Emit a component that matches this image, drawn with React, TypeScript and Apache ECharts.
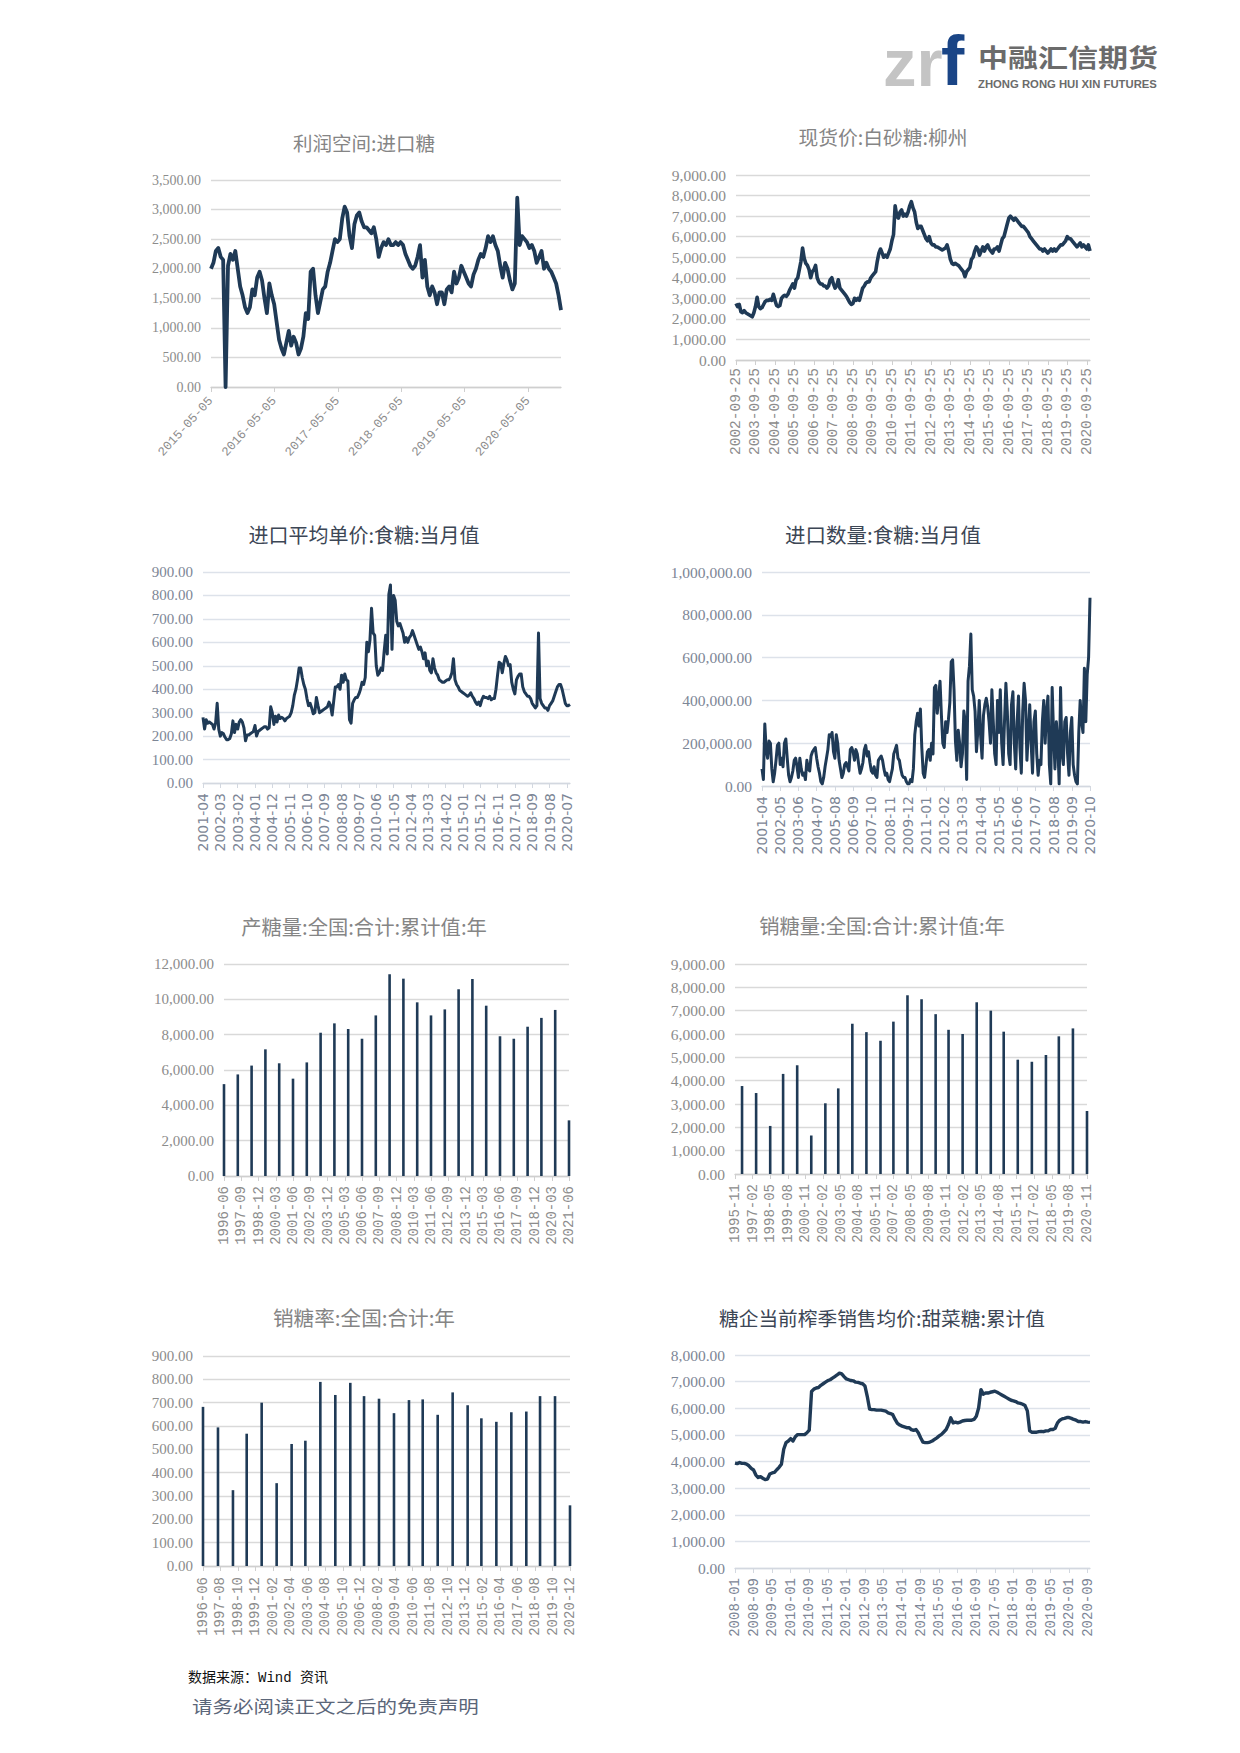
import React, { useEffect, useRef } from "react";
import * as echarts from "echarts";

// ---------- Chart 1: 利润空间:进口糖 (biweekly from 2015-05-05) ----------
const profitStart = "2015-05-05";
const profitStepDays = 14;
const profitValues = [
  2000, 2100, 2300, 2350, 2200, 2150, 0, 2050, 2250, 2150,
  2300, 2000, 1700, 1550, 1350, 1250, 1350, 1650, 1550, 1850,
  1950, 1800, 1500, 1250, 1750, 1550, 1400, 1100, 800, 650,
  550, 750, 950, 700, 850, 750, 550, 650, 850, 1250,
  1150, 1950, 2000, 1550, 1250, 1450, 1650, 1700, 1950, 2100,
  2300, 2500, 2450, 2500, 2850, 3050, 2950, 2550, 2350, 2750,
  2900, 2950, 2800, 2700, 2700, 2650, 2600, 2700, 2500, 2200,
  2350, 2450, 2400, 2500, 2400, 2400, 2450, 2400, 2450, 2400,
  2250, 2150, 2050, 2000, 2050, 2200, 2400, 1850, 2150, 1700,
  1550, 1700, 1600, 1400, 1600, 1600, 1400, 1650, 1700, 1600,
  1950, 1750, 1850, 2050, 1950, 1850, 1750, 1700, 1900, 2000,
  2150, 2250, 2200, 2350, 2550, 2450, 2550, 2400, 2300, 2050,
  1850, 2100, 2000, 1800, 1650, 1750, 3200, 2400, 2550, 2500,
  2450, 2350, 2400, 2300, 2100, 2200, 2300, 2000, 2100, 2000,
  1950, 1850, 1750, 1550, 1300,
];
const profitTickDates = ["2015-05-05", "2016-05-05", "2017-05-05", "2018-05-05", "2019-05-05", "2020-05-05"];

// ---------- Chart 2: 现货价:白砂糖:柳州 (monthly from 2002-09) ----------
const spotStart = "2002-09";
const spotDay = "25";
const spotValues = [
  2750, 2600, 2700, 2350,
  2300, 2400, 2300, 2250, 2200, 2150, 2100, 2300, 2600, 3050, 2600, 2500,
  2550, 2700, 2850, 2900, 2900, 2950, 2900, 3200, 2900, 2650, 2600, 2650,
  3000, 3100, 3150, 3100, 3200, 3400, 3550, 3700, 3500, 3900, 4000, 4400,
  4800, 5450, 4950, 4700, 4600, 4400, 4000, 4300, 4400, 4600, 4000, 3800,
  3700, 3700, 3600, 3600, 3500, 3600, 3900, 4000, 3700, 3500, 3600, 3900,
  3500, 3400, 3300, 3200, 3100, 2950, 2800, 2700, 2750, 3000, 2900, 3000,
  2900, 3200, 3500, 3600, 3750, 3800, 3800, 4000, 4100, 4200, 4300, 4800,
  5200, 5400, 5200, 5000, 5100, 5000, 5200, 5400, 5800, 6100, 7500, 7000,
  6900, 7200, 7300, 7000, 7100, 7000, 7200, 7500, 7700, 7400, 7200, 6700,
  6400, 6500, 6500, 6300, 6100, 5900, 5800, 6000, 5700, 5600, 5600, 5500,
  5500, 5450, 5400, 5350, 5400, 5450, 5600, 5300, 4900, 4700, 4650, 4700,
  4650, 4600, 4500, 4400, 4300, 4050, 4300, 4400, 4500, 4900, 5000, 5300,
  5500, 5400, 5100, 5300, 5500, 5300, 5500, 5600, 5400, 5300, 5200, 5400,
  5400, 5500, 5300, 5600, 5900, 6000, 6300, 6600, 6900, 7000, 6900, 6800,
  6900, 6800, 6700, 6600, 6500, 6500, 6400, 6300, 6200, 6000, 5900, 5800,
  5700, 5600, 5500, 5400, 5400, 5300, 5400, 5300, 5200, 5300, 5400, 5300,
  5400, 5300, 5400, 5500, 5600, 5600, 5700, 5800, 6000, 5900, 5900, 5800,
  5700, 5600, 5500, 5600, 5700, 5500, 5600, 5500, 5400, 5600, 5300,
];

// ---------- Chart 3: 进口平均单价:食糖:当月值 (monthly from 2001-04) ----------
const importPriceStart = "2001-04";
const importPriceValues = [
  280, 230, 270, 255, 260, 255, 250, 230, 255, 340,
  230, 200, 215, 210, 195, 185, 185, 190, 210, 265,
  215, 250, 230, 260, 270, 260, 235, 180, 205, 205,
  210, 215, 220, 245, 200, 220, 225, 230, 235, 240,
  240, 230, 235, 325, 300, 250, 285, 260, 290, 275,
  280, 275, 265, 275, 280, 285, 300, 330, 375, 400,
  440, 490, 490, 450, 420, 400, 360, 330, 340, 320,
  295, 300, 365, 330, 300, 305, 310, 315, 320, 325,
  345, 330, 290, 350, 410, 410, 420, 400, 460, 430,
  465, 440, 435, 270, 255, 340, 355, 365, 365, 380,
  400, 430, 420, 450, 600, 560, 610, 745, 640, 630,
  500, 460, 470, 490, 480, 560, 630, 550, 805, 845,
  570, 800, 780, 690, 670, 680, 660, 640, 600, 620,
  600, 620, 630, 650, 630, 610, 590, 570, 580, 560,
  530, 555, 500, 520, 480, 470, 530, 490, 470, 460,
  440, 435, 430, 430, 435, 440, 440, 450, 470, 530,
  440, 420, 410, 395, 390, 385, 380, 375, 370, 375,
  385, 370, 360, 345, 335, 345, 330, 355, 370, 365,
  365, 360, 370, 355, 360, 360, 400, 460, 515, 510,
  470, 510, 540, 525, 500, 505, 430, 400, 380, 440,
  455, 465, 465, 410, 390, 380, 370, 370, 360, 340,
  330, 320, 330, 640, 360, 340, 330, 320, 320, 310,
  330, 340, 350, 370, 390, 410, 420, 420, 400, 370,
  340, 330, 330, 335,
];

// ---------- Chart 4: 进口数量:食糖:当月值 (monthly from 2001-04) ----------
const importQtyStart = "2001-04";
const importQtyValues = [
  80000, 30000, 290000, 170000, 130000, 210000, 200000, 80000, 20000, 60000,
  120000, 190000, 200000, 100000, 130000, 90000, 200000, 220000, 130000, 50000,
  20000, 40000, 70000, 120000, 130000, 90000, 40000, 130000, 80000, 50000,
  60000, 30000, 120000, 80000, 70000, 140000, 160000, 170000, 180000, 130000,
  90000, 60000, 20000, 10000, 40000, 90000, 130000, 170000, 240000, 230000,
  250000, 160000, 130000, 240000, 200000, 120000, 80000, 40000, 60000, 100000,
  110000, 90000, 70000, 170000, 180000, 160000, 120000, 170000, 150000, 100000,
  60000, 80000, 110000, 170000, 190000, 140000, 160000, 110000, 70000, 60000,
  90000, 50000, 40000, 120000, 130000, 140000, 120000, 80000, 50000, 60000,
  30000, 20000, 50000, 80000, 150000, 170000, 190000, 130000, 120000, 80000,
  50000, 40000, 40000, 20000, 10000, 10000, 30000, 20000, 80000, 240000,
  300000, 340000, 280000, 360000, 180000, 60000, 40000, 100000, 160000, 170000,
  120000, 200000, 150000, 460000, 470000, 340000, 410000, 490000, 330000, 200000,
  180000, 300000, 250000, 310000, 390000, 580000, 590000, 450000, 210000, 120000,
  260000, 200000, 90000, 150000, 350000, 300000, 30000, 490000, 560000, 710000,
  450000, 420000, 350000, 160000, 260000, 400000, 230000, 130000, 330000, 380000,
  410000, 370000, 300000, 200000, 450000, 300000, 150000, 100000, 400000, 250000,
  450000, 200000, 100000, 300000, 480000, 350000, 150000, 100000, 380000, 440000,
  200000, 80000, 300000, 420000, 180000, 60000, 350000, 480000, 400000, 120000,
  250000, 380000, 200000, 60000, 300000, 350000, 150000, 50000, 120000, 100000,
  300000, 400000, 200000, 350000, 420000, 100000, 10000, 460000, 250000, 80000,
  300000, 200000, 10000, 460000, 150000, 100000, 300000, 320000, 150000, 50000,
  250000, 320000, 100000, 50000, 20000, 10000, 250000, 400000, 300000, 250000,
  550000, 300000, 520000, 600000, 880000,
];

// ---------- Chart 5: 产糖量:全国:合计:累计值:年 ----------
const outputAxisStart = "1996-06";
const outputAxisEnd = "2021-06";
const outputDates = [
  "1996-06", "1997-06", "1998-06", "1999-06", "2000-06", "2001-06", "2002-06", "2003-06", "2004-06",
  "2005-06", "2006-06", "2007-06", "2008-06", "2009-06", "2010-06", "2011-06", "2012-06", "2013-06",
  "2014-06", "2015-06", "2016-06", "2017-06", "2018-06", "2019-06", "2020-06", "2021-06",
];
const outputValues = [
  5200, 5750, 6250, 7170, 6380, 5510, 6430, 8110, 8640, 8320, 7770, 9090, 11420,
  11170, 9830, 9090, 9430, 10570, 11150, 9640, 7910, 7770, 8450, 8950, 9400, 3150,
];

// ---------- Chart 6: 销糖量:全国:合计:累计值:年 ----------
const salesAxisStart = "1995-11";
const salesAxisEnd = "2020-11";
const salesDates = [
  "1996-05", "1997-05", "1998-05", "1999-04", "2000-04", "2001-04", "2002-04", "2003-03", "2004-03",
  "2005-03", "2006-03", "2007-02", "2008-02", "2009-02", "2010-02", "2011-01", "2012-01", "2013-01",
  "2014-01", "2014-12", "2015-12", "2016-12", "2017-12", "2018-11", "2019-11", "2020-11",
];
const salesValues = [
  3770, 3470, 2060, 4290, 4660, 1650, 3030, 3670, 6440, 6080, 5710, 6530, 7660,
  7490, 6850, 6180, 6000, 7360, 7000, 6100, 4900, 4810, 5100, 5900, 6240, 2700,
];

// ---------- Chart 7: 销糖率:全国:合计:年 ----------
const rateAxisStart = "1996-06";
const rateAxisEnd = "2020-12";
const rateDates = [
  "1996-06", "1997-06", "1998-06", "1999-05", "2000-05", "2001-05", "2002-05", "2003-04", "2004-04",
  "2005-04", "2006-04", "2007-03", "2008-03", "2009-03", "2010-03", "2011-02", "2012-02", "2013-02",
  "2014-02", "2015-01", "2016-01", "2017-01", "2018-01", "2018-12", "2019-12", "2020-12",
];
const rateValues = [
  682, 594, 325, 567, 700, 355, 523, 537, 789, 733, 785, 728, 717,
  655, 711, 714, 648, 744, 689, 633, 618, 659, 662, 728, 728, 260,
];

// ---------- Chart 8: 糖企当前榨季销售均价:甜菜糖:累计值 (monthly from 2008-01) ----------
const beetStart = "2008-01";
const beetValues = [
  3940, 3920, 3960, 3930, 3930, 3900, 3840, 3740, 3680, 3490,
  3400, 3430, 3370, 3320, 3340, 3530, 3570, 3590, 3690, 3780,
  3900, 4460, 4710, 4770, 4860, 4770, 4930, 5010, 5010, 5010,
  5010, 5080, 5180, 6630, 6720, 6760, 6780, 6860, 6920, 6980,
  7040, 7070, 7130, 7190, 7250, 7320, 7290, 7190, 7100, 7070,
  7040, 7030, 6980, 6970, 6940, 6920, 6840, 6450, 5970, 5950,
  5950, 5930, 5930, 5930, 5910, 5890, 5830, 5800, 5760, 5580,
  5430, 5370, 5330, 5300, 5270, 5270, 5200, 5170, 5200, 5080,
  4890, 4730, 4710, 4710, 4730, 4770, 4830, 4890, 4960, 5020,
  5110, 5200, 5390, 5640, 5450, 5480, 5450, 5480, 5520, 5540,
  5550, 5550, 5550, 5580, 5700, 6010, 6700, 6530, 6570, 6570,
  6600, 6620, 6640, 6600, 6550, 6500, 6450, 6400, 6350, 6300,
  6280, 6250, 6200, 6180, 6150, 6100, 5900, 5150, 5100, 5100,
  5100, 5120, 5130, 5120, 5150, 5150, 5200, 5200, 5250, 5450,
  5550, 5600, 5620, 5650, 5650, 5620, 5580, 5550, 5500, 5500,
  5480, 5500, 5480, 5470,
];

// ---------- helpers ----------
const LINE = "#1f3a56";
const GRAY_LABEL = "#8c8c8c";
const BLUE_LABEL = "#7d8696";
const GRID_GRAY = "#d9d9d9";
const GRID_BLUE = "#dde2ea";

function pad2(n: number) {
  return String(n).padStart(2, "0");
}
function monthSeq(start: string, n: number): string[] {
  let [y, m] = start.split("-").map(Number);
  const out: string[] = [];
  for (let i = 0; i < n; i++) {
    out.push(`${y}-${pad2(m)}`);
    m++;
    if (m > 12) {
      m = 1;
      y++;
    }
  }
  return out;
}
function monthRange(start: string, end: string): string[] {
  const [sy, sm] = start.split("-").map(Number);
  const [ey, em] = end.split("-").map(Number);
  return monthSeq(start, (ey - sy) * 12 + (em - sm) + 1);
}
function ts(d: string) {
  const [y, m, day] = d.split("-").map(Number);
  return Date.UTC(y, m - 1, day);
}
function isoDate(v: number) {
  return new Date(v).toISOString().slice(0, 10);
}
function fmtNum(v: number) {
  const s = Math.abs(v).toFixed(2);
  const [i, d] = s.split(".");
  return i.replace(/\B(?=(\d{3})+(?!\d))/g, ",") + "." + d;
}
function barData(cats: string[], dates: string[], values: number[]) {
  return cats.map((c) => {
    const k = dates.indexOf(c);
    return k >= 0 ? values[k] : null;
  });
}

function yAxisCfg(gridIndex: number, max: number, interval: number, fontSize: number, blue: boolean) {
  return {
    type: "value",
    gridIndex,
    min: 0,
    max,
    interval,
    axisLine: { show: false },
    axisTick: { show: false },
    axisLabel: {
      formatter: fmtNum,
      color: blue ? BLUE_LABEL : GRAY_LABEL,
      fontFamily: "Liberation Serif",
      fontSize,
      margin: 10,
    },
    splitLine: { lineStyle: { color: blue ? GRID_BLUE : GRID_GRAY, width: 1.3 } },
  };
}

function xCatCfg(
  gridIndex: number,
  data: string[],
  interval: number,
  fontFamily: string,
  fontSize: number,
  blue: boolean,
  margin: number
) {
  return {
    type: "category",
    gridIndex,
    data,
    boundaryGap: false,
    axisLine: { lineStyle: { color: blue ? "#d3d8e0" : "#cfcfcf", width: 1.3 } },
    axisTick: { show: true, interval, length: 5, lineStyle: { color: blue ? "#d3d8e0" : "#cfcfcf" } },
    axisLabel: {
      interval,
      rotate: 90,
      fontFamily,
      fontSize,
      color: blue ? BLUE_LABEL : GRAY_LABEL,
      margin,
    },
    splitLine: { show: false },
  };
}

function lineSeries(xi: number, data: any[], width: number) {
  return {
    type: "line",
    xAxisIndex: xi,
    yAxisIndex: xi,
    data,
    showSymbol: false,
    symbol: "none",
    silent: true,
    lineStyle: { color: LINE, width, join: "round" },
    emphasis: { disabled: true },
  };
}
function barSeries(xi: number, data: any[]) {
  return {
    type: "bar",
    xAxisIndex: xi,
    yAxisIndex: xi,
    data,
    barWidth: 2.6,
    clip: false,
    silent: true,
    itemStyle: { color: LINE },
    emphasis: { disabled: true },
  };
}

function titleText(text: string, x: number, y: number, size: number, dark: boolean) {
  return {
    type: "text",
    x,
    y,
    silent: true,
    style: {
      text,
      fontFamily: "Noto Sans CJK SC",
      fontSize: size,
      fill: dark ? "#3c4655" : "#858585",
      align: "center",
      verticalAlign: "middle",
    },
  };
}

function buildOption() {
  // chart 1
  const p0 = ts(profitStart);
  const profitData = profitValues.map((v, i) => [p0 + i * profitStepDays * 86400000, v]);
  const profitTicks = profitTickDates.map(ts);
  // chart 2
  const spotCats = monthSeq(spotStart, spotValues.length).map((s) => `${s}-${spotDay}`);
  // chart 3/4/8
  const ipCats = monthSeq(importPriceStart, importPriceValues.length);
  const iqCats = monthSeq(importQtyStart, importQtyValues.length);
  const beetCats = monthSeq(beetStart, beetValues.length);
  // bars
  const outCats = monthRange(outputAxisStart, outputAxisEnd);
  const salesCats = monthRange(salesAxisStart, salesAxisEnd);
  const rateCats = monthRange(rateAxisStart, rateAxisEnd);

  const grids = [
    { left: 211, top: 180, width: 350, height: 207 },
    { left: 736, top: 175, width: 354, height: 185 },
    { left: 203, top: 572, width: 367, height: 211 },
    { left: 762, top: 572, width: 328, height: 214 },
    { left: 224, top: 964, width: 345, height: 212 },
    { left: 735, top: 964, width: 352, height: 210 },
    { left: 203, top: 1356, width: 367, height: 210 },
    { left: 735, top: 1355, width: 355, height: 213 },
  ].map((g) => ({ ...g, containLabel: false }));

  const xAxes = [
    {
      type: "value",
      gridIndex: 0,
      min: p0,
      max: profitData[profitData.length - 1][0],
      splitLine: { show: false },
      axisLine: { lineStyle: { color: "#cfcfcf", width: 1.3 } },
      axisTick: { show: true, length: 5, customValues: profitTicks, lineStyle: { color: "#cfcfcf" } },
      axisLabel: {
        customValues: profitTicks,
        rotate: 48,
        formatter: (v: number) => isoDate(v),
        fontFamily: "Liberation Mono",
        fontSize: 12.5,
        color: GRAY_LABEL,
        margin: 12,
      },
    },
    xCatCfg(1, spotCats, 11, "Liberation Mono", 14.5, false, 8),
    xCatCfg(2, ipCats, 10, "DejaVu Sans", 14, true, 10),
    xCatCfg(3, iqCats, 12, "DejaVu Sans", 14, true, 10),
    xCatCfg(4, outCats, 14, "Liberation Mono", 14, false, 10),
    xCatCfg(5, salesCats, 14, "Liberation Mono", 14, false, 10),
    xCatCfg(6, rateCats, 13, "Liberation Mono", 14, false, 11),
    xCatCfg(7, beetCats, 7, "Liberation Mono", 14, true, 10),
  ];

  const yAxes = [
    yAxisCfg(0, 3500, 500, 14, false),
    yAxisCfg(1, 9000, 1000, 15.5, false),
    yAxisCfg(2, 900, 100, 15, true),
    yAxisCfg(3, 1000000, 200000, 15.5, true),
    yAxisCfg(4, 12000, 2000, 15, false),
    yAxisCfg(5, 9000, 1000, 15.5, false),
    yAxisCfg(6, 900, 100, 15, false),
    yAxisCfg(7, 8000, 1000, 15.5, true),
  ];

  const series = [
    lineSeries(0, profitData, 3.8),
    lineSeries(1, spotValues, 3.6),
    lineSeries(2, importPriceValues, 3),
    lineSeries(3, importQtyValues, 3),
    barSeries(4, barData(outCats, outputDates, outputValues)),
    barSeries(5, barData(salesCats, salesDates, salesValues)),
    barSeries(6, barData(rateCats, rateDates, rateValues)),
    lineSeries(7, beetValues, 3.4),
  ];

  const graphic = [
    // logo
    {
      type: "text",
      x: 883,
      y: 62,
      silent: true,
      style: {
        text: "zr",
        fontFamily: "Liberation Sans",
        fontWeight: "bold",
        fontSize: 67,
        fill: "#c4c4c4",
        align: "left",
        verticalAlign: "middle",
      },
    },
    {
      type: "text",
      x: 941,
      y: 61,
      silent: true,
      style: {
        text: "f",
        fontFamily: "Liberation Sans",
        fontWeight: "bold",
        fontSize: 70,
        fill: "#1a4586",
        align: "left",
        verticalAlign: "middle",
      },
    },
    {
      type: "text",
      x: 978,
      y: 56,
      scaleY: 0.82,
      silent: true,
      style: {
        text: "中融汇信期货",
        fontFamily: "Noto Sans CJK SC",
        fontWeight: "bold",
        fontSize: 30,
        fill: "#6b6b6b",
        align: "left",
        verticalAlign: "middle",
      },
    },
    {
      type: "text",
      x: 978,
      y: 84,
      silent: true,
      style: {
        text: "ZHONG RONG HUI XIN FUTURES",
        fontFamily: "Liberation Sans",
        fontWeight: "bold",
        fontSize: 11.3,
        fill: "#6b6b6b",
        align: "left",
        verticalAlign: "middle",
      },
    },
    // titles
    titleText("利润空间:进口糖", 364, 142, 19.5, false),
    titleText("现货价:白砂糖:柳州", 883, 136, 19.8, false),
    titleText("进口平均单价:食糖:当月值", 364, 534, 20, true),
    titleText("进口数量:食糖:当月值", 883, 534, 20.5, true),
    titleText("产糖量:全国:合计:累计值:年", 364, 926, 20.3, false),
    titleText("销糖量:全国:合计:累计值:年", 882, 925, 20.3, false),
    titleText("销糖率:全国:合计:年", 364, 1317, 20.6, false),
    titleText("糖企当前榨季销售均价:甜菜糖:累计值", 882, 1317, 19.7, true),
    // footer
    {
      type: "text",
      x: 188,
      y: 1678,
      silent: true,
      style: {
        text: "数据来源：Wind 资讯",
        fontFamily: "Liberation Mono, Noto Sans CJK SC",
        fontSize: 14,
        fill: "#111111",
        align: "left",
        verticalAlign: "middle",
      },
    },
    {
      type: "text",
      x: 192,
      y: 1706,
      scaleY: 0.86,
      silent: true,
      style: {
        text: "请务必阅读正文之后的免责声明",
        fontFamily: "Noto Sans CJK SC",
        fontSize: 20.5,
        fill: "#5b6679",
        align: "left",
        verticalAlign: "middle",
      },
    },
  ];

  return {
    animation: false,
    backgroundColor: "#ffffff",
    grid: grids,
    xAxis: xAxes,
    yAxis: yAxes,
    series,
    graphic,
  };
}

export default function App() {
  const ref = useRef<HTMLDivElement>(null);
  useEffect(() => {
    if (!ref.current) return;
    const chart = echarts.init(ref.current, null, { renderer: "svg" });
    chart.setOption(buildOption() as any);
    return () => chart.dispose();
  }, []);
  return (
    <div
      ref={ref}
      style={{ position: "absolute", left: 0, top: 0, width: 1240, height: 1753, background: "#fff" }}
    />
  );
}
